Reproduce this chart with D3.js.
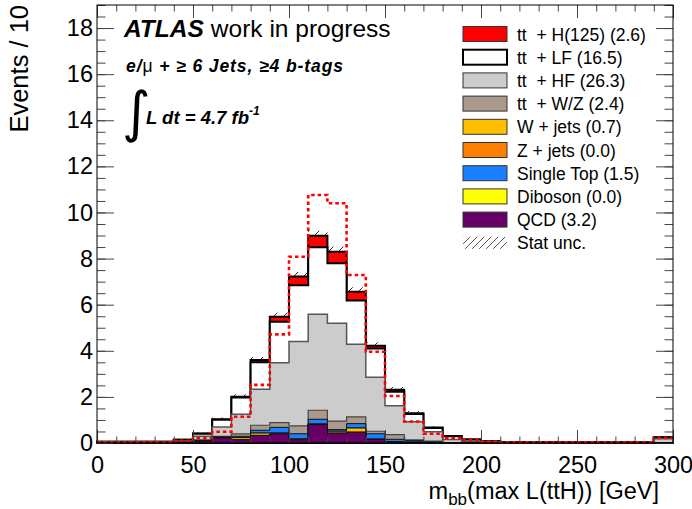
<!DOCTYPE html>
<html lang="en">
<head>
  <meta charset="UTF-8">
  <script src="https://cdn.jsdelivr.net/npm/d3@7"></script>
  <title>m_bb max L(ttH)</title>
  <style>
    body { margin: 0; background: #fff; }
    text { font-family: "Liberation Sans", Arial, Helvetica, sans-serif; fill: #000; }
    .tick text { font-size: 23.5px; }
    .tick line { stroke: #444; }
  </style>
</head>
<body>
<script>
  // bin lower edges (GeV), 10 GeV bins
  const bins = [0, 10, 20, 30, 40, 50, 60, 70, 80, 90, 100, 110, 120, 130, 140,
    150, 160, 170, 180, 190, 200, 210, 220, 230, 240, 250, 260, 270, 280, 290];
  const xMax = 300;

  // stacked backgrounds, events per bin
  const qcd = [0.01, 0.01, 0.01, 0.01, 0.03, 0.08, 0.22, 0.14, 0.33, 0.40, 0.14, 0.80, 0.43, 0.47, 0.15,
    0.04, 0.02, 0, 0, 0, 0, 0, 0, 0, 0, 0, 0, 0, 0, 0];
  const diboson = [0, 0, 0, 0, 0, 0, 0, 0, 0, 0, 0, 0, 0, 0, 0,
    0, 0, 0, 0, 0, 0, 0, 0, 0, 0, 0, 0, 0, 0, 0];
  const wjets = [0, 0, 0, 0, 0, 0.02, 0.02, 0.09, 0.10, 0.03, 0.04, 0.03, 0.08, 0.18, 0.02,
    0.02, 0.02, 0.02, 0, 0, 0, 0, 0, 0, 0, 0, 0, 0, 0, 0];
  const zjets = [0, 0, 0, 0, 0, 0, 0, 0, 0, 0, 0, 0, 0, 0, 0,
    0, 0, 0, 0, 0, 0, 0, 0, 0, 0, 0, 0, 0, 0, 0];
  const singleTop = [0, 0, 0, 0, 0, 0.01, 0.02, 0.06, 0.12, 0.25, 0.22, 0.20, 0.07, 0.19, 0.23,
    0.10, 0.06, 0.03, 0, 0, 0, 0, 0, 0, 0, 0, 0, 0, 0, 0];
  const ttV = [0, 0, 0, 0, 0.01, 0.03, 0.03, 0.11, 0.22, 0.20, 0.34, 0.39, 0.37, 0.29, 0.11,
    0.20, 0.04, 0.03, 0.02, 0, 0, 0, 0, 0, 0, 0, 0, 0, 0, 0];
  const ttHF = [0.02, 0.02, 0.02, 0.02, 0.06, 0.15, 0.40, 0.85, 1.56, 2.60, 3.66, 4.16, 4.24, 3.15, 2.34,
    1.26, 0.78, 0.41, 0.13, 0.08, 0.04, 0.02, 0.02, 0.02, 0.02, 0.02, 0.02, 0.02, 0.02, 0.18];
  const ttLF = [0.02, 0.02, 0.02, 0.02, 0.04, 0.11, 0.32, 0.72, 1.17, 1.78, 2.44, 2.91, 2.61, 1.90, 1.25,
    0.60, 0.34, 0.16, 0.14, 0.07, 0.04, 0.02, 0.02, 0.02, 0.02, 0.02, 0.02, 0.02, 0.02, 0.06];
  const ttH = [0, 0, 0, 0, 0, 0.01, 0.02, 0.04, 0.10, 0.22, 0.38, 0.50, 0.50, 0.38, 0.12,
    0.09, 0.03, 0.02, 0.01, 0, 0, 0, 0, 0, 0, 0, 0, 0, 0, 0.01];
  // ttH signal normalised to the background (dashed)
  const signal = [0.03, 0.03, 0.03, 0.03, 0.10, 0.22, 0.49, 1.14, 2.52, 4.71, 8.08, 10.76, 10.40, 7.29, 3.96,
    2.04, 0.93, 0.40, 0.21, 0.12, 0.06, 0.03, 0.03, 0.03, 0.03, 0.03, 0.03, 0.03, 0.03, 0.22];
  const statUnc = [0, 0, 0, 0, 0.03, 0.05, 0.08, 0.10, 0.13, 0.17, 0.20, 0.22, 0.22, 0.20, 0.15,
    0.12, 0.10, 0.07, 0.05, 0.03, 0.02, 0.02, 0.02, 0.02, 0.02, 0.02, 0.02, 0.02, 0.02, 0.05];

  const xTicks = [0, 50, 100, 150, 200, 250, 300];
  const yTicks = [0, 2, 4, 6, 8, 10, 12, 14, 16, 18];

  const legendLabels = ["tt  + H(125) (2.6)", "tt  + LF (16.5)", "tt  + HF (26.3)", "tt  + W/Z (2.4)",
    "W + jets (0.7)", "Z + jets (0.0)", "Single Top (1.5)", "Diboson (0.0)", "QCD (3.2)"];

  // stack order bottom -> top
  const layers = [
    { key: "qcd", vals: qcd, fill: "#660066", stroke: "#111", sw: 1 },
    { key: "diboson", vals: diboson, fill: "#ffff00", stroke: "#111", sw: 1 },
    { key: "wjets", vals: wjets, fill: "#ffbf00", stroke: "#111", sw: 1 },
    { key: "zjets", vals: zjets, fill: "#ff7f00", stroke: "#111", sw: 1 },
    { key: "singleTop", vals: singleTop, fill: "#1a80ff", stroke: "#111", sw: 1 },
    { key: "ttV", vals: ttV, fill: "#a99a8b", stroke: "#444", sw: 1.2 },
    { key: "ttHF", vals: ttHF, fill: "#cccccc", stroke: "#555", sw: 1.5 },
    { key: "ttLF", vals: ttLF, fill: "#ffffff", stroke: "#000", sw: 2 },
    { key: "ttH", vals: ttH, fill: "#ff0000", stroke: "#000", sw: 2 }
  ];
  // legend order top -> bottom
  const legendKeys = ["ttH", "ttLF", "ttHF", "ttV", "wjets", "zjets", "singleTop", "diboson", "qcd"];

  const width = 692, height = 509;
  const x = d3.scaleLinear().domain([0, xMax]).range([97, 673]);
  const y = d3.scaleLinear().domain([0, 19]).range([443, 5]);

  const rows = bins.map((b, i) => {
    const r = { lo: b };
    layers.forEach(l => r[l.key] = l.vals[i]);
    return r;
  });
  const stacked = d3.stack().keys(layers.map(l => l.key))(rows);

  const svg = d3.select("body").append("svg")
    .attr("width", width).attr("height", height);

  const defs = svg.append("defs");
  defs.append("pattern").attr("id", "hatch").attr("patternUnits", "userSpaceOnUse")
    .attr("width", 10).attr("height", 10)
    .append("path").attr("d", "M0,10 L10,0 M-2,2 L2,-2 M8,12 L12,8")
    .attr("stroke", "#333").attr("stroke-width", 1);
  defs.append("pattern").attr("id", "hatchLeg").attr("patternUnits", "userSpaceOnUse")
    .attr("width", 7).attr("height", 7)
    .append("path").attr("d", "M0,7 L7,0 M-2,2 L2,-2 M5,9 L9,5")
    .attr("stroke", "#555").attr("stroke-width", 1);

  // step helpers: repeat the last value for the closing edge at xMax
  const withEnd = arr => arr.concat([arr[arr.length - 1]]);
  const edges = bins.concat([xMax]);

  const area = d3.area().curve(d3.curveStepAfter)
    .x((d, i) => x(edges[i]))
    .y0(y(0))
    .y1(d => y(d));
  const line = d3.line().curve(d3.curveStepAfter)
    .x((d, i) => x(edges[i]))
    .y(d => y(d));

  const plot = svg.append("g");

  // stat unc band behind the stack
  const totals = stacked[stacked.length - 1].map(d => d[1]);
  const uncArea = d3.area().curve(d3.curveStepAfter)
    .x((d, i) => x(edges[i]))
    .y0(d => y(d[0]))
    .y1(d => y(d[1]));
  plot.append("path")
    .attr("d", uncArea(withEnd(totals.map((t, i) => [t - statUnc[i], t + statUnc[i]]))))
    .attr("fill", "url(#hatch)");

  // draw cumulative histograms, largest first (ROOT THStack style)
  stacked.slice().reverse().forEach(s => {
    const l = layers.find(d => d.key === s.key);
    plot.append("path")
      .attr("d", area(withEnd(s.map(d => d[1]))))
      .attr("fill", l.fill)
      .attr("stroke", l.stroke)
      .attr("stroke-width", l.sw)
      .attr("stroke-linejoin", "miter");
  });

  // signal dashed
  plot.append("path")
    .attr("d", line(withEnd(signal)))
    .attr("fill", "none")
    .attr("stroke", "#ff0000")
    .attr("stroke-width", 2.6)
    .attr("stroke-dasharray", "3.5,3");

  // axes with inward ticks on all sides
  const axes = svg.append("g");
  axes.append("g").attr("transform", `translate(0,${y(0)})`)
    .call(d3.axisBottom(x).tickValues(x.ticks(30)).tickSize(-6.5).tickFormat(""));
  axes.append("g").attr("transform", `translate(0,${y(0)})`)
    .call(d3.axisBottom(x).tickValues(xTicks).tickSize(-13).tickPadding(13).tickFormat(d3.format("d")));
  axes.append("g").attr("transform", `translate(0,${y(19)})`)
    .call(d3.axisTop(x).tickValues(x.ticks(30)).tickSize(-6.5).tickFormat(""));
  axes.append("g").attr("transform", `translate(0,${y(19)})`)
    .call(d3.axisTop(x).tickValues(xTicks).tickSize(-13).tickFormat(""));
  axes.append("g").attr("transform", `translate(${x(0)},0)`)
    .call(d3.axisLeft(y).tickValues(y.ticks(38)).tickSize(-8.5).tickFormat(""));
  axes.append("g").attr("transform", `translate(${x(0)},0)`)
    .call(d3.axisLeft(y).tickValues(yTicks).tickSize(-17).tickPadding(4).tickFormat(d3.format("d")));
  axes.append("g").attr("transform", `translate(${x(xMax)},0)`)
    .call(d3.axisRight(y).tickValues(y.ticks(38)).tickSize(-8.5).tickFormat(""));
  axes.append("g").attr("transform", `translate(${x(xMax)},0)`)
    .call(d3.axisRight(y).tickValues(yTicks).tickSize(-17).tickFormat(""));
  axes.selectAll(".domain").remove();
  axes.selectAll(".tick text").attr("font-family", null).attr("font-size", null);

  svg.append("rect")
    .attr("x", x(0)).attr("y", y(19))
    .attr("width", x(xMax) - x(0)).attr("height", y(0) - y(19))
    .attr("fill", "none").attr("stroke", "#000").attr("stroke-width", 1);

  // axis titles
  svg.append("text")
    .attr("transform", `translate(28,${y(19)}) rotate(-90)`)
    .attr("text-anchor", "end")
    .style("font-size", "25.5px")
    .text("Events / 10");

  const xt = svg.append("text")
    .attr("x", 659).attr("y", 499)
    .attr("text-anchor", "end")
    .style("font-size", "23.5px");
  xt.append("tspan").text("m");
  xt.append("tspan").attr("dy", 6).style("font-size", "17px").text("bb");
  xt.append("tspan").attr("dy", -6).text("(max L(ttH)) [GeV]");

  // labels, top left
  const lab = svg.append("text").attr("x", 124).attr("y", 37).style("font-size", "24.5px");
  lab.append("tspan").style("font-weight", "bold").style("font-style", "italic").text("ATLAS");
  lab.append("tspan").attr("dx", 7).text("work in progress");

  const sel = svg.append("text").attr("x", 126).attr("y", 72)
    .attr("textLength", 217).attr("lengthAdjust", "spacing")
    .style("font-size", "17.5px").style("font-weight", "bold").style("font-style", "italic");
  sel.append("tspan").text("e/");
  sel.append("tspan").style("font-weight", "normal").style("font-style", "normal").text("\u03bc");
  sel.append("tspan").text(" + \u2265 6 Jets, \u22654 b-tags");

  svg.append("text").attr("x", 122).attr("y", 131)
    .style("font-family", "'DejaVu Sans'").style("font-size", "55px").text("\u222b");
  const lumi = svg.append("text").attr("x", 146).attr("y", 124)
    .style("font-size", "18.5px").style("font-weight", "bold").style("font-style", "italic");
  lumi.append("tspan").text("L dt = 4.7 fb");
  lumi.append("tspan").attr("dy", -9).style("font-size", "12px").text("-1");

  // legend
  const leg = svg.append("g");
  const rowH = 23.2, legTop = 34;
  legendKeys.forEach((k, i) => {
    const l = layers.find(d => d.key === k);
    const cy = legTop + i * rowH;
    leg.append("rect")
      .attr("x", 463).attr("y", cy - 7.5).attr("width", 44).attr("height", 15)
      .attr("fill", l.fill)
      .attr("stroke", k === "ttLF" ? "#000" : "#333")
      .attr("stroke-width", k === "ttLF" ? 2 : 1);
    leg.append("text")
      .attr("x", 517).attr("y", cy + 6.5)
      .style("font-size", "17.5px").style("white-space", "pre")
      .text(legendLabels[i]);
  });
  const cyU = legTop + legendKeys.length * rowH;
  leg.append("rect")
    .attr("x", 463).attr("y", cyU - 6).attr("width", 44).attr("height", 12)
    .attr("fill", "url(#hatchLeg)");
  leg.append("text")
    .attr("x", 517).attr("y", cyU + 6.5)
    .style("font-size", "17.5px")
    .text("Stat unc.");
</script>
</body>
</html>
